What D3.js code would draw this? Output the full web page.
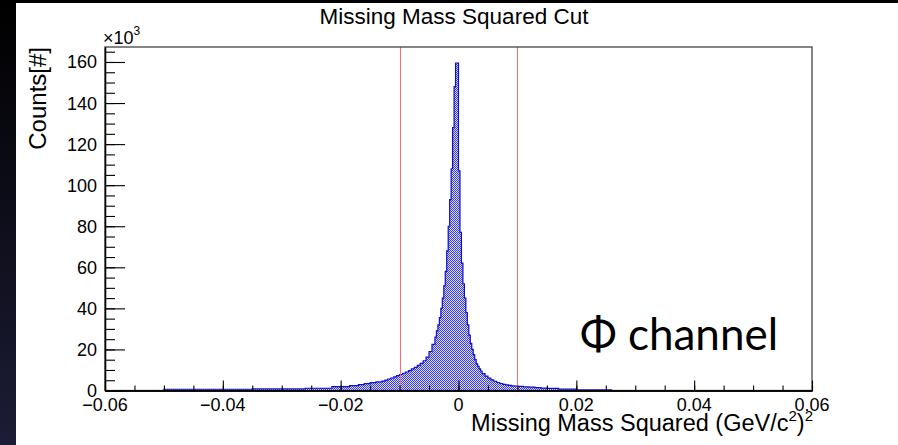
<!DOCTYPE html>
<html><head><meta charset="utf-8">
<script src="https://cdn.jsdelivr.net/npm/d3@7"></script>
<style>html,body{margin:0;padding:0;background:#000;overflow:hidden}svg{display:block}</style>
</head><body><svg id="c" width="898" height="445"></svg>
<script>
// ---- data ----
const binEdges = [-0.06, -0.05, -0.035, -0.026, -0.0215, -0.0185, -0.017, -0.016, -0.015, -0.014,
  -0.013, -0.0125, -0.012, -0.0115, -0.011, -0.0105, -0.01, -0.0095, -0.009, -0.0085,
  -0.008, -0.0075, -0.007, -0.0065, -0.006, -0.0055, -0.005, -0.0045, -0.004, -0.00375,
  -0.0035, -0.00325, -0.003, -0.00275, -0.0025, -0.00225, -0.002, -0.00175, -0.0015, -0.00125,
  -0.001, -0.00075, -0.0005, -0.00025, 0, 0.00025, 0.0005, 0.00075, 0.001, 0.00125,
  0.0015, 0.00175, 0.002, 0.00225, 0.0025, 0.00275, 0.003, 0.00325, 0.0035, 0.00375,
  0.004, 0.0045, 0.005, 0.0055, 0.006, 0.0065, 0.007, 0.0075, 0.008, 0.0085,
  0.009, 0.0095, 0.01, 0.011, 0.012, 0.013, 0.014, 0.015, 0.017, 0.02,
  0.026, 0.06];
const countsK = [0, 0.6, 0.8, 1.1, 1.9, 2.4, 2.9, 3.3, 3.8, 4.2,
  4.6, 5.1, 5.6, 6.1, 6.6, 7.2, 7.8, 8.4, 9.0, 9.7,
  10.5, 11.3, 12.2, 13.2, 14.5, 16.3, 19, 22.5, 26, 29,
  32, 35.5, 40, 45, 51, 58, 68, 80, 93, 108,
  128, 148, 159.5, 159.5, 107, 77, 62, 52, 45, 38,
  32, 27, 23, 20, 17.5, 15, 13, 11.8, 10.5, 9.5,
  8.2, 7.0, 6.0, 5.2, 4.5, 3.9, 3.4, 3.0, 2.7, 2.5,
  2.3, 2.2, 2.0, 1.8, 1.6, 1.4, 1.2, 1.0, 0.7, 0.35,
  0];
const xTickValues = [-0.06, -0.04, -0.02, 0, 0.02, 0.04, 0.06];
const xTickLabels = ["\u22120.06", "\u22120.04", "\u22120.02", "0", "0.02", "0.04", "0.06"];
const yTickValues = [0, 20, 40, 60, 80, 100, 120, 140, 160];
const yTickLabels = ["0", "20", "40", "60", "80", "100", "120", "140", "160"];
const cutLines = [-0.01, 0.01];
const titleText = "Missing Mass Squared Cut";
const yTitle = "Counts[#]";
const channelText = "\u03A6 channel";

// ---- drawing ----
const svg = d3.select("#c");
const defs = svg.append("defs");
const g0 = defs.append("linearGradient").attr("id", "bg").attr("x1", 0).attr("y1", 0).attr("x2", 0).attr("y2", 1);
g0.append("stop").attr("offset", "0%").attr("stop-color", "#000");
g0.append("stop").attr("offset", "100%").attr("stop-color", "#1c1c36");
const pat = defs.append("pattern").attr("id", "chk").attr("patternUnits", "userSpaceOnUse")
  .attr("width", 2).attr("height", 2);
pat.append("rect").attr("x", 0).attr("y", 0).attr("width", 2).attr("height", 2).attr("fill", "#dcdcff");
pat.append("rect").attr("x", 0).attr("y", 0).attr("width", 1).attr("height", 1).attr("fill", "#3a3aff");
pat.append("rect").attr("x", 1).attr("y", 1).attr("width", 1).attr("height", 1).attr("fill", "#3a3aff");

svg.append("rect").attr("width", 898).attr("height", 445).attr("fill", "url(#bg)");
svg.append("rect").attr("x", 16).attr("y", 3).attr("width", 882).attr("height", 442).attr("fill", "#fff");

const L = 105, R = 812, T = 47, B = 390.5;
const x = d3.scaleLinear().domain([-0.06, 0.06]).range([L, R]);
const y = d3.scaleLinear().domain([0, 167.3]).range([B, T]);

// histogram
const pts = [[x(binEdges[0]), y(0)]];
countsK.forEach((c, i) => {
  pts.push([x(binEdges[i]), y(c)]);
  pts.push([x(binEdges[i + 1]), y(c)]);
});
pts.push([x(binEdges[binEdges.length - 1]), y(0)]);
const line = d3.line();
svg.append("path").attr("d", line(pts) + "Z").attr("fill", "url(#chk)").attr("stroke", "none")
  .attr("shape-rendering", "crispEdges");
svg.append("path").attr("d", line(pts)).attr("fill", "none").attr("stroke", "#1010c8").attr("stroke-width", 1.2);

// cut lines
svg.selectAll(".cut").data(cutLines).enter().append("line")
  .attr("x1", d => Math.round(x(d)) + 0.5).attr("x2", d => Math.round(x(d)) + 0.5).attr("y1", T).attr("y2", B)
  .attr("stroke", "#ec7378").attr("stroke-width", 1.1);

// frame
svg.append("rect").attr("x", L).attr("y", T).attr("width", R - L).attr("height", B - T)
  .attr("fill", "none").attr("stroke", "#444").attr("stroke-width", 1.3);

const font = "'Liberation Sans', Arial, Helvetica, sans-serif";

// x axis
const xMinor = d3.range(-0.06, 0.0601, 0.005);
const xa = svg.append("g").attr("transform", `translate(0,${B})`);
xa.call(d3.axisTop(x).tickValues(xMinor).tickSize(5).tickSizeOuter(0).tickFormat(""));
xa.append("g").call(d3.axisTop(x).tickValues(xTickValues).tickSize(10).tickSizeOuter(0)
  .tickFormat(() => ""));
xa.selectAll("path.domain").attr("stroke", "#000").attr("stroke-width", 1.3);
xa.selectAll(".tick line").attr("stroke", "#000").attr("stroke-width", 1.1);
svg.append("g").selectAll("text").data(xTickValues).enter().append("text")
  .attr("x", d => x(d)).attr("y", 411).attr("text-anchor", "middle")
  .attr("font-family", font).attr("font-size", 18).attr("fill", "#000")
  .text((d, i) => xTickLabels[i]);

// y axis
const yMinor = d3.range(0, 166, 5);
const ya = svg.append("g").attr("transform", `translate(${L},0)`);
ya.call(d3.axisRight(y).tickValues(yMinor).tickSize(10).tickSizeOuter(0).tickFormat(""));
ya.append("g").call(d3.axisRight(y).tickValues(yTickValues).tickSize(20).tickSizeOuter(0).tickFormat(() => ""));
ya.selectAll("path.domain").attr("stroke", "#000").attr("stroke-width", 1.3);
ya.selectAll(".tick line").attr("stroke", "#000").attr("stroke-width", 1.1);
svg.append("g").selectAll("text").data(yTickValues).enter().append("text")
  .attr("x", 97).attr("y", d => y(d) + 6.5).attr("text-anchor", "end")
  .attr("font-family", font).attr("font-size", 18).attr("fill", "#000")
  .text((d, i) => yTickLabels[i]);

// exponent
const ex = svg.append("text").attr("x", 103).attr("y", 44).attr("font-family", font)
  .attr("font-size", 18).attr("fill", "#000");
ex.append("tspan").text("\u00D710");
ex.append("tspan").attr("dy", -9).attr("font-size", 12).text("3");

// title
svg.append("text").attr("x", 454).attr("y", 24).attr("text-anchor", "middle")
  .attr("font-family", font).attr("font-size", 22.5).attr("fill", "#000").text(titleText);

// x title
const xt = svg.append("text").attr("x", 813).attr("y", 431).attr("text-anchor", "end")
  .attr("font-family", font).attr("font-size", 23.5).attr("fill", "#000");
xt.append("tspan").text("Missing Mass Squared (GeV/c");
xt.append("tspan").attr("dy", -10).attr("font-size", 15).text("2");
xt.append("tspan").attr("dy", 10).text(")");
xt.append("tspan").attr("dy", -10).attr("font-size", 15).text("2");

// y title
svg.append("text").attr("transform", "translate(46,47) rotate(-90)").attr("text-anchor", "end")
  .attr("font-family", font).attr("font-size", 24).attr("fill", "#000").text(yTitle);

// channel annotation
svg.append("text").attr("x", 580).attr("y", 350).attr("font-family", "Lato, 'Open Sans', sans-serif")
  .attr("font-size", 44).attr("fill", "#000").text(channelText);
</script></body></html>
